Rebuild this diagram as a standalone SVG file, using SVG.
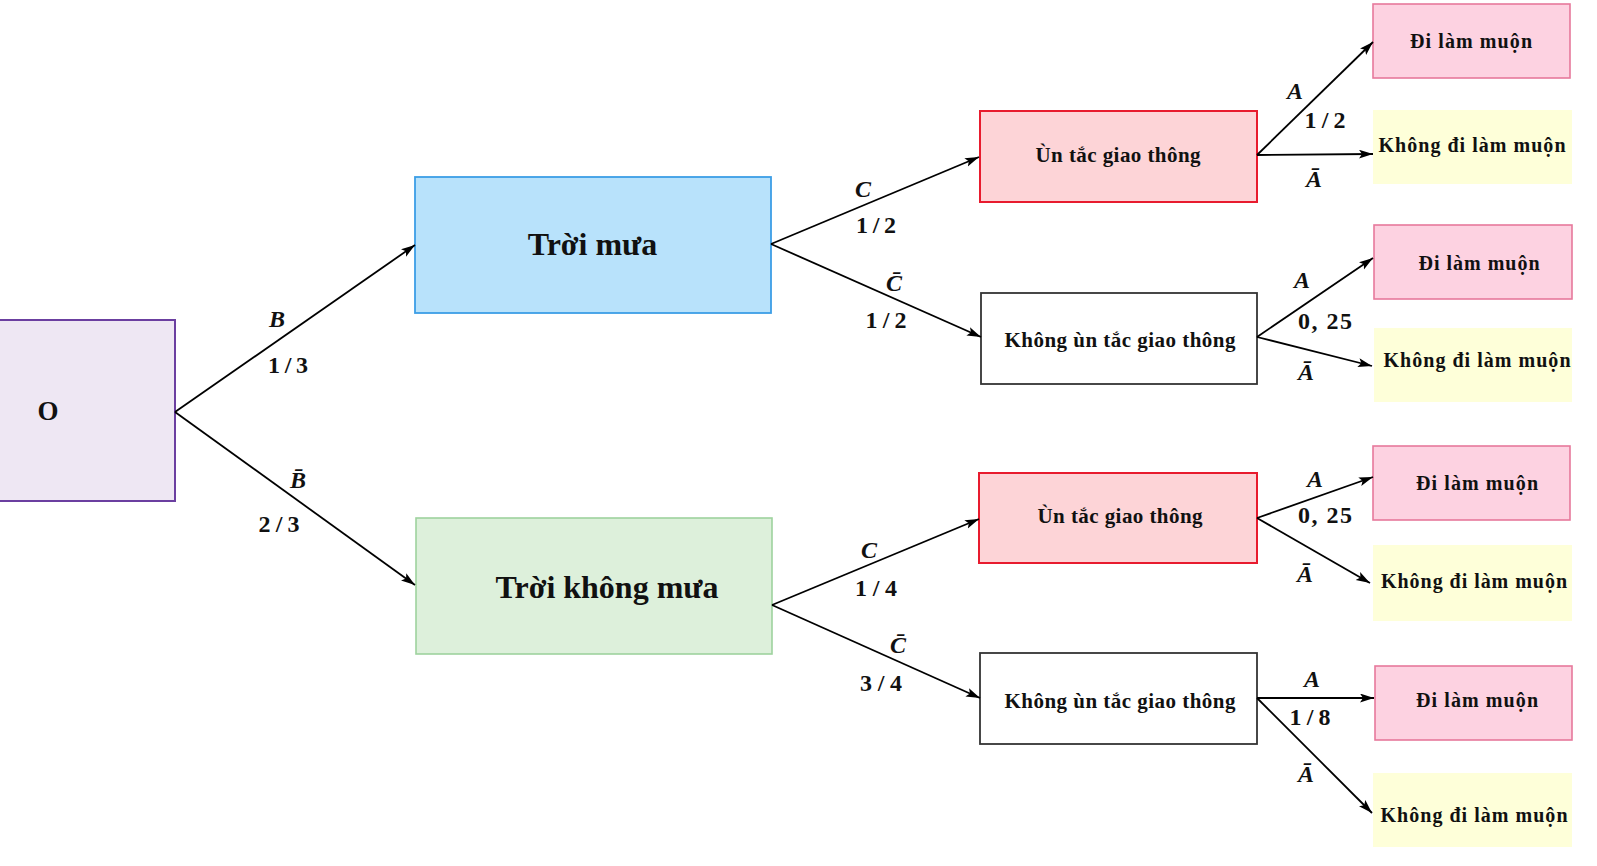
<svg xmlns="http://www.w3.org/2000/svg" width="1597" height="866" viewBox="0 0 1597 866">
<defs>
<marker id="arr" markerUnits="userSpaceOnUse" markerWidth="15" markerHeight="10" refX="14" refY="4.5" orient="auto">
<path d="M0,0 L14,4.5 L0,9 L3,4.5 Z" fill="#000"/>
</marker>
<style>
text{font-family:"Liberation Serif","Times New Roman",serif;font-weight:bold;fill:#111;text-anchor:middle}
.big{font-size:32px}
.mid{font-size:21px}
.leaf{font-size:20px}
.lab{font-size:24px}
.var{font-style:italic}
.conn line{stroke:#000;stroke-width:1.8;marker-end:url(#arr)}
.red{fill:#FDD4D7;stroke:#E81B2E;stroke-width:2}
.white{fill:#fff;stroke:#333;stroke-width:1.8}
.pink{fill:#FDD2E1;stroke:#E7799C;stroke-width:1.6}
.yellow{fill:#FEFFD9;stroke:none}
</style>
</defs>
<rect width="1597" height="866" fill="#fff"/>

<g id="node-O">
<rect x="-2" y="320" width="177" height="181" fill="#EEE7F3" stroke="#6B3FA0" stroke-width="2"/>
<text x="48" y="420" style="font-size:27px">O</text>
</g>
<g id="node-troi-mua">
<rect x="415" y="177" width="356" height="136" fill="#B8E2FB" stroke="#3C9EE6" stroke-width="1.8"/>
<text class="big" x="592.5" y="255">Trời mưa</text>
</g>
<g id="node-troi-khong-mua">
<rect x="416" y="518" width="356" height="136" fill="#DDF0DB" stroke="#9ED39E" stroke-width="1.6"/>
<text class="big" x="607" y="598">Trời không mưa</text>
</g>

<g id="node-un-tac-1">
<rect class="red" x="980" y="111" width="277" height="91"/>
<text class="mid" x="1118" y="162" textLength="165">Ùn tắc giao thông</text>
</g>
<g id="node-khong-un-tac-1">
<rect class="white" x="981" y="293" width="276" height="91"/>
<text class="mid" x="1120" y="347" textLength="231">Không ùn tắc giao thông</text>
</g>
<g id="node-un-tac-2">
<rect class="red" x="979" y="473" width="278" height="90"/>
<text class="mid" x="1120" y="523" textLength="165">Ùn tắc giao thông</text>
</g>
<g id="node-khong-un-tac-2">
<rect class="white" x="980" y="653" width="277" height="91"/>
<text class="mid" x="1120" y="708" textLength="231">Không ùn tắc giao thông</text>
</g>

<g id="leaf-1">
<rect class="pink" x="1373" y="4" width="197" height="74"/>
<text class="leaf" x="1471" y="48" textLength="122">Đi làm muộn</text>
</g>
<g id="leaf-2">
<rect class="yellow" x="1373" y="110" width="199" height="74"/>
<text class="leaf" x="1472" y="152" textLength="187">Không đi làm muộn</text>
</g>
<g id="leaf-3">
<rect class="pink" x="1374" y="225" width="198" height="74"/>
<text class="leaf" x="1479" y="270" textLength="121">Đi làm muộn</text>
</g>
<g id="leaf-4">
<rect class="yellow" x="1374" y="328" width="198" height="74"/>
<text class="leaf" x="1477" y="367" textLength="187">Không đi làm muộn</text>
</g>
<g id="leaf-5">
<rect class="pink" x="1373" y="446" width="197" height="74"/>
<text class="leaf" x="1477" y="490" textLength="122">Đi làm muộn</text>
</g>
<g id="leaf-6">
<rect class="yellow" x="1373" y="545" width="199" height="76"/>
<text class="leaf" x="1474" y="588" textLength="186">Không đi làm muộn</text>
</g>
<g id="leaf-7">
<rect class="pink" x="1375" y="666" width="197" height="74"/>
<text class="leaf" x="1477" y="707" textLength="122">Đi làm muộn</text>
</g>
<g id="leaf-8">
<rect class="yellow" x="1373" y="773" width="199" height="74"/>
<text class="leaf" x="1474" y="822" textLength="187">Không đi làm muộn</text>
</g>

<g id="connectors" class="conn">
<line x1="175" y1="412" x2="415" y2="245"/>
<line x1="175" y1="412" x2="415" y2="585"/>
<line x1="771" y1="244" x2="979" y2="157"/>
<line x1="771" y1="244" x2="981" y2="337"/>
<line x1="772" y1="605" x2="979" y2="519"/>
<line x1="772" y1="605" x2="980" y2="698"/>
<line x1="1257" y1="155" x2="1373" y2="42"/>
<line x1="1257" y1="155" x2="1373" y2="154"/>
<line x1="1257" y1="337" x2="1373" y2="258"/>
<line x1="1257" y1="337" x2="1372" y2="366"/>
<line x1="1257" y1="518" x2="1373" y2="477"/>
<line x1="1257" y1="518" x2="1370" y2="583"/>
<line x1="1257" y1="698" x2="1374" y2="698"/>
<line x1="1257" y1="698" x2="1372" y2="813"/>
</g>

<g id="labels" class="lab">
<text class="lab var" x="277" y="327">B</text>
<text class="lab" x="288" y="373" textLength="40">1/3</text>
<text class="lab var" x="298" y="488">B&#x304;</text>
<text class="lab" x="279" y="532" textLength="41">2/3</text>

<text class="lab var" x="863" y="197">C</text>
<text class="lab" x="876" y="233" textLength="40">1/2</text>
<text class="lab var" x="894" y="291">C&#x304;</text>
<text class="lab" x="886" y="328" textLength="41">1/2</text>

<text class="lab var" x="869" y="558">C</text>
<text class="lab" x="876" y="596" textLength="42">1/4</text>
<text class="lab var" x="898" y="653">C&#x304;</text>
<text class="lab" x="881" y="691" textLength="42">3/4</text>

<text class="lab var" x="1295" y="99">A</text>
<text class="lab" x="1325" y="128" textLength="41">1/2</text>
<text class="lab var" x="1314" y="187">A&#x304;</text>

<text class="lab var" x="1302" y="288">A</text>
<text class="lab" x="1325" y="329" textLength="54">0, 25</text>
<text class="lab var" x="1306" y="380">A&#x304;</text>

<text class="lab var" x="1315" y="487">A</text>
<text class="lab" x="1325" y="523" textLength="54">0, 25</text>
<text class="lab var" x="1305" y="582">A&#x304;</text>

<text class="lab var" x="1312" y="687">A</text>
<text class="lab" x="1310" y="725" textLength="41">1/8</text>
<text class="lab var" x="1306" y="782">A&#x304;</text>
</g>
</svg>
